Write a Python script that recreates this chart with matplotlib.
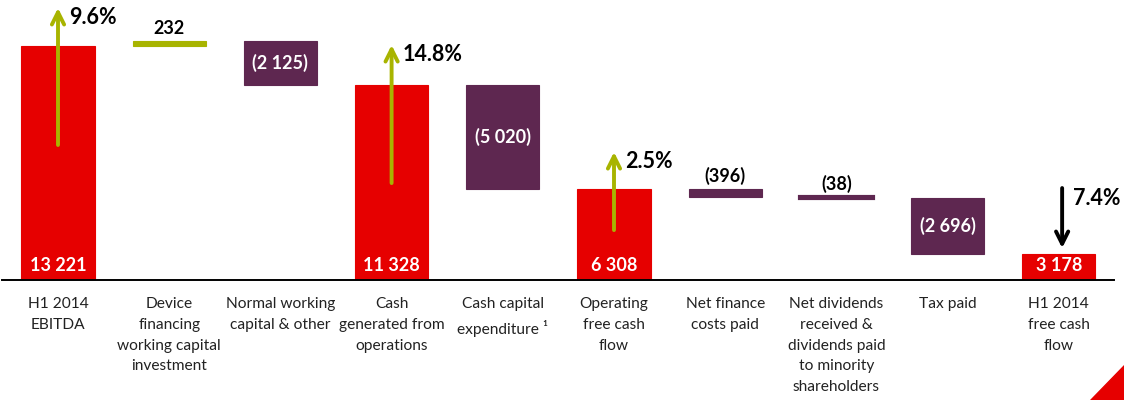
import numpy as np
import matplotlib
matplotlib.use('Agg')
import matplotlib.pyplot as plt
from matplotlib.patches import Polygon

plt.rcParams['font.family'] = ['Lato', 'DejaVu Sans']

# waterfall steps (EUR m)
categories = ['H1 2014\nEBITDA', 'Device\nfinancing\nworking capital\ninvestment',
              'Normal working\ncapital & other', 'Cash\ngenerated from\noperations',
              'Cash capital\nexpenditure \u00b9', 'Operating\nfree cash\nflow',
              'Net finance\ncosts paid', 'Net dividends\nreceived &\ndividends paid\nto minority\nshareholders',
              'Tax paid', 'H1 2014\nfree cash\nflow']
values = [13221, 232, -2125, 11328, -5020, 6308, -396, -38, -2696, 3178]
is_total = [True, False, False, True, False, True, False, False, False, True]
value_labels = ['13 221', '232', '(2 125)', '11 328', '(5 020)', '6 308', '(396)', '(38)', '(2 696)', '3 178']

# growth arrows: bar index, arrow start, arrow end, label
growth_idx = [0, 3, 5, 9]
growth_from = [8440, 6600, 4330, 6360]
growth_to = [15060, 13270, 8100, 3460]
growth_labels = ['9.6%', '14.8%', '2.5%', '7.4%']

RED = '#e60000'
PURPLE = '#5e2750'
OLIVE = '#a8b400'

fig = plt.figure(figsize=(11.24, 4.0), dpi=100)
ax = fig.add_axes([2.4 / 1124, 0.3, 1112 / 1124, 0.7])

x = np.arange(len(values))
running = 0
bottoms, heights, colors = [], [], []
for v, tot in zip(values, is_total):
    if tot:
        bottoms.append(0)
        heights.append(v)
        colors.append(RED)
        running = v
    else:
        bottoms.append(running if v > 0 else running + v)
        heights.append(abs(v))
        colors.append(OLIVE if v > 0 else PURPLE)
        running += v

edge_w = [3.0 if h < 100 else 0.8 for h in heights]
ax.bar(x, heights, bottom=bottoms, width=0.66, color=colors,
       edgecolor=colors, linewidth=edge_w, zorder=2)

for i, (b, h, lab) in enumerate(zip(bottoms, heights, value_labels)):
    if is_total[i]:
        ax.text(i, 0.052, lab, transform=ax.get_xaxis_transform(), ha='center', va='center',
                color='white', fontsize=13, fontweight='bold', zorder=4)
    elif h > 1000:
        ax.text(i, b + h / 2, lab, ha='center', va='center', color='white',
                fontsize=13, fontweight='bold', zorder=4)
    else:
        ax.annotate(lab, (i, b + h), xytext=(0, 3), textcoords='offset points',
                    ha='center', va='bottom', fontsize=13, fontweight='bold', color='black')

for i, y0, y1, lab in zip(growth_idx, growth_from, growth_to, growth_labels):
    col = OLIVE if y1 > y0 else 'black'
    xi = i if y1 > y0 else i + 0.03
    ax.annotate('', xy=(xi, y1), xytext=(xi, y0),
                arrowprops=dict(arrowstyle='->', color=col, lw=2.8, mutation_scale=22,
                                shrinkA=0, shrinkB=0), zorder=5)
    ty = y1 - 450 if y1 > y0 else y0 - 500
    ax.text(xi + 0.1, ty, lab, ha='left', va='center', fontsize=15.5, fontweight='bold', zorder=5)

for i, cat in enumerate(categories):
    ax.text(i, -0.062, cat, transform=ax.get_xaxis_transform(), ha='center', va='top',
            fontsize=11.2, linespacing=1.6, color='#222222')

ax.set_xlim(-0.5, 9.5)
ax.set_ylim(1918, 15444)
for s in ['top', 'right', 'left']:
    ax.spines[s].set_visible(False)
ax.spines['bottom'].set_linewidth(1.4)
ax.set_xticks([])
ax.set_yticks([])

# corner mark
fig.patches.append(Polygon([(1090 / 1124, 0), (1, 0), (1, 35 / 400)], closed=True,
                           transform=fig.transFigure, color=RED))

fig.savefig('out.png', dpi=100)
